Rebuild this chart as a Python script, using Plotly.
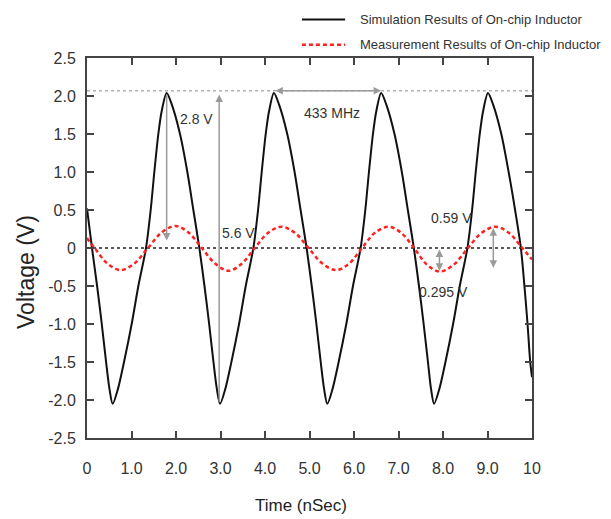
import plotly.graph_objects as go

# Simulated inductor oscillation (ns, V)
sim_t = [0.00, 0.112, 0.227, 0.332, 0.429, 0.504, 0.577,
         0.697, 0.832, 1.004, 1.154, 1.326, 1.431, 1.513, 1.603, 1.678, 1.79,
         1.91, 2.09, 2.255, 2.39, 2.525, 2.64, 2.745, 2.842, 2.917, 2.99,
         3.11, 3.245, 3.417, 3.567, 3.739, 3.844, 3.926, 4.016, 4.091, 4.20,
         4.32, 4.50, 4.665, 4.80, 4.935, 5.05, 5.155, 5.252, 5.327, 5.40,
         5.52, 5.655, 5.827, 5.977, 6.149, 6.254, 6.336, 6.426, 6.501, 6.61,
         6.73, 6.91, 7.075, 7.21, 7.345, 7.46, 7.565, 7.662, 7.73, 7.80,
         7.92, 8.055, 8.227, 8.377, 8.549, 8.654, 8.736, 8.826, 8.901, 9.01,
         9.13, 9.31, 9.475, 9.62, 9.75, 9.83, 9.90, 9.96, 10.0]
sim_v = [0.52, 0.0, -0.5, -1.0, -1.5, -1.85, -2.05,
         -1.85, -1.5, -1.0, -0.5, 0.0, 0.5, 1.0, 1.5, 1.8, 2.04,
         1.88, 1.5, 1.0, 0.5, 0.0, -0.5, -1.0, -1.5, -1.85, -2.05,
         -1.85, -1.5, -1.0, -0.5, 0.0, 0.5, 1.0, 1.5, 1.8, 2.04,
         1.88, 1.5, 1.0, 0.5, 0.0, -0.5, -1.0, -1.5, -1.85, -2.05,
         -1.85, -1.5, -1.0, -0.5, 0.0, 0.5, 1.0, 1.5, 1.8, 2.04,
         1.88, 1.5, 1.0, 0.5, 0.0, -0.5, -1.0, -1.5, -1.85, -2.05,
         -1.85, -1.5, -1.0, -0.5, 0.0, 0.5, 1.0, 1.5, 1.8, 2.04,
         1.88, 1.5, 1.0, 0.5, 0.0, -0.5, -1.0, -1.5, -1.7]

# Measured inductor oscillation (ns, V)
meas_t = [0.0, 0.17, 0.46, 0.75, 1.06, 1.37, 1.68, 1.99, 2.28, 2.58, 2.88,
          3.18, 3.47, 3.77, 4.07, 4.37, 4.67, 4.98, 5.29, 5.60, 5.89, 6.18,
          6.47, 6.77, 7.06, 7.35, 7.64, 7.93, 8.24, 8.56, 8.87, 9.18, 9.48,
          9.78, 10.0]
meas_v = [0.13, 0.0, -0.205, -0.29, -0.205, 0.0, 0.205, 0.29, 0.205, 0.0, -0.205,
          -0.30, -0.21, 0.0, 0.20, 0.28, 0.20, 0.0, -0.205, -0.29, -0.205, 0.0,
          0.20, 0.28, 0.20, 0.0, -0.22, -0.31, -0.22, 0.0, 0.20, 0.28, 0.20,
          0.0, -0.15]

series_names = ["Simulation Results of On-chip Inductor",
                "Measurement Results of On-chip Inductor"]

x_ticks = [0, 1, 2, 3, 4, 5, 6, 7, 8, 9, 10]
x_labels = ["0", "1.0", "2.0", "3.0", "4.0", "5.0", "6.0", "7.0", "8.0", "9.0", "10"]
y_ticks = [-2.5, -2.0, -1.5, -1.0, -0.5, 0, 0.5, 1.0, 1.5, 2.0, 2.5]
y_labels = ["-2.5", "-2.0", "-1.5", "-1.0", "-0.5", "0", "0.5", "1.0", "1.5", "2.0", "2.5"]

peak_level = 2.07
peak_a, peak_b = 4.20, 6.61
p2p_t, p2p_lo, p2p_hi = 2.97, -2.05, 2.02
amp_t, amp_top, amp_bot = 1.79, 2.04, 0.1
meas_pp_t, meas_pp_hi, meas_pp_lo = 9.13, 0.26, -0.28
meas_a_t, meas_a_hi, meas_a_lo = 7.92, -0.02, -0.32

FONT = "Liberation Sans, Arial, sans-serif"
GREY = "#9a9a9a"
SIM_LINE = dict(color="#111111", width=2)
MEAS_LINE = dict(color="#ff2020", width=2.5, dash="4px,3px")

fig = go.Figure()
fig.add_trace(go.Scatter(
    x=sim_t, y=sim_v, mode="lines", name=series_names[0],
    line=dict(**SIM_LINE, shape="spline", smoothing=0.8)))
fig.add_trace(go.Scatter(
    x=meas_t, y=meas_v, mode="lines", name=series_names[1],
    line=dict(**MEAS_LINE, shape="spline", smoothing=1.0)))

# reference lines
fig.add_shape(type="line", x0=0, x1=10, y0=peak_level, y1=peak_level,
              line=dict(color="#b0b0b0", width=1.5, dash="dot"), layer="below")
fig.add_shape(type="line", x0=0, x1=10, y0=0, y1=0,
              line=dict(color="#222222", width=1.5, dash="dot"), layer="below")


def arrow(x0, y0, x1, y1, both=False):
    fig.add_annotation(x=x1, y=y1, ax=x0, ay=y0, xref="x", yref="y", axref="x", ayref="y",
                       text="", showarrow=True, arrowhead=2, arrowsize=1.0, arrowwidth=1.5,
                       arrowcolor=GREY, arrowside="end+start" if both else "end")


arrow(amp_t, amp_top, amp_t, amp_bot)
arrow(p2p_t, p2p_lo, p2p_t, p2p_hi)
arrow(peak_a, peak_level, peak_b, peak_level, both=True)
arrow(meas_pp_t, meas_pp_lo, meas_pp_t, meas_pp_hi, both=True)
arrow(meas_a_t, meas_a_lo, meas_a_t, meas_a_hi, both=True)

labels = [("2.8 V", 2.45, 1.70), ("5.6 V", 3.41, 0.20), ("433 MHz", 5.50, 1.78),
          ("0.59 V", 8.19, 0.39), ("0.295 V", 8.0, -0.585)]
for txt, lx, ly in labels:
    fig.add_annotation(x=lx, y=ly, xref="x", yref="y", text=txt, showarrow=False,
                       font=dict(family=FONT, size=14, color="#333333"))

# legend drawn above the plot area, in paper coordinates
legend_rows = [(series_names[0], SIM_LINE, 1.101), (series_names[1], MEAS_LINE, 1.035)]
for name, style, ry in legend_rows:
    fig.add_shape(type="line", xref="paper", yref="paper", x0=0.483, x1=0.580,
                  y0=ry, y1=ry, line=style)
    fig.add_annotation(x=0.61, y=ry, xref="paper", yref="paper", text=name,
                       showarrow=False, xanchor="left", yanchor="middle",
                       font=dict(family=FONT, size=13, color="#333333"))

# axis titles
fig.add_annotation(x=-0.137, y=0.437, xref="paper", yref="paper", text="Voltage (V)",
                   textangle=-90, showarrow=False, xanchor="center", yanchor="middle",
                   font=dict(family=FONT, size=23, color="#222222"))
fig.add_annotation(x=0.482, y=-0.178, xref="paper", yref="paper", text="Time (nSec)",
                   showarrow=False, xanchor="center", yanchor="middle",
                   font=dict(family=FONT, size=17, color="#222222"))

axis_common = dict(showline=True, linewidth=2, linecolor="#444444", mirror="ticks",
                   ticks="inside", ticklen=7, tickwidth=1.5, tickcolor="#444444",
                   showgrid=False, zeroline=False,
                   tickfont=dict(family=FONT, size=16, color="#333333"))

fig.update_layout(
    width=611, height=519,
    margin=dict(l=87, r=79, t=58, b=81, autoexpand=False),
    paper_bgcolor="white", plot_bgcolor="white",
    xaxis=dict(range=[0, 10], tickvals=x_ticks, ticktext=x_labels, ticklabelstandoff=15,
               **axis_common),
    yaxis=dict(range=[-2.5, 2.5], tickvals=y_ticks, ticktext=y_labels, ticklabelstandoff=6,
               **axis_common),
    showlegend=False,
)

fig.write_html("out.html")
